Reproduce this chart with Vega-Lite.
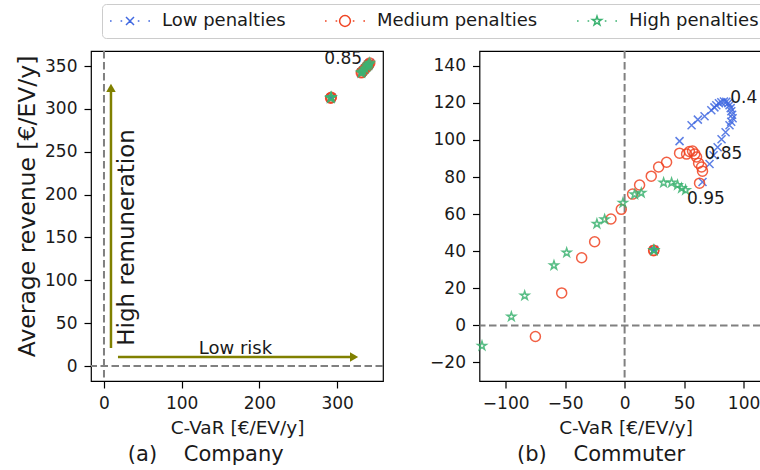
{
  "$schema": "https://vega.github.io/schema/vega-lite/v6.json",
  "padding": {"left": 14, "top": 3, "right": 0, "bottom": 0},
  "background": "white",
  "config": {
    "font": "DejaVu Sans",
    "view": {"stroke": "black", "strokeWidth": 1.2},
    "axis": {"grid": false, "domain": false, "tickColor": "black", "tickSize": 7, "tickWidth": 1.2, "labelFontSize": 17, "labelColor": "#1a1a1a", "labelPadding": 7, "titleFontSize": 18.5, "titleFontWeight": "normal", "titleColor": "#1a1a1a", "labelFont": "DejaVu Sans", "titleFont": "DejaVu Sans"},
    "axisX": {"titlePadding": 7},
    "title": {"fontSize": 21, "fontWeight": "normal", "color": "#1a1a1a", "orient": "bottom", "offset": 7, "frame": "bounds", "font": "DejaVu Sans"},
    "legend": {"orient": "none", "legendX": 11, "legendY": -47, "direction": "horizontal", "title": null, "labelFontSize": 18, "labelFont": "DejaVu Sans", "labelColor": "#1a1a1a", "labelLimit": 400, "symbolSize": 1600, "symbolStrokeWidth": 1.5, "symbolOpacity": 1, "labelOffset": 11, "columnPadding": 38, "padding": 7, "clipHeight": 20, "strokeColor": "#cccccc", "cornerRadius": 4, "fillColor": "white"},
    "concat": {"spacing": 43.5}
  },
  "datasets": {
    "pts": [
      {"p":"a","s":"Low penalties","x":292,"y":313},{"p":"a","s":"Low penalties","x":292.5,"y":313.6},{"p":"a","s":"Low penalties","x":291.6,"y":312.5},{"p":"a","s":"Low penalties","x":331,"y":342},{"p":"a","s":"Low penalties","x":331.8,"y":342.8},{"p":"a","s":"Low penalties","x":333.5,"y":344.5},{"p":"a","s":"Low penalties","x":336,"y":347},{"p":"a","s":"Low penalties","x":338.5,"y":349.5},{"p":"a","s":"Low penalties","x":340,"y":351},{"p":"a","s":"Low penalties","x":340.8,"y":352},{"p":"a","s":"Low penalties","x":342,"y":353.5},
      {"p":"a","s":"Medium penalties","x":292,"y":313},{"p":"a","s":"Medium penalties","x":292.5,"y":313.6},{"p":"a","s":"Medium penalties","x":291.6,"y":312.5},{"p":"a","s":"Medium penalties","x":331,"y":342},{"p":"a","s":"Medium penalties","x":331.8,"y":342.8},{"p":"a","s":"Medium penalties","x":333.5,"y":344.5},{"p":"a","s":"Medium penalties","x":336,"y":347},{"p":"a","s":"Medium penalties","x":338.5,"y":349.5},{"p":"a","s":"Medium penalties","x":340,"y":351},{"p":"a","s":"Medium penalties","x":340.8,"y":352},{"p":"a","s":"Medium penalties","x":342,"y":353.5},
      {"p":"a","s":"High penalties","x":292,"y":313},{"p":"a","s":"High penalties","x":292.5,"y":313.6},{"p":"a","s":"High penalties","x":291.6,"y":312.5},{"p":"a","s":"High penalties","x":331,"y":342},{"p":"a","s":"High penalties","x":331.8,"y":342.8},{"p":"a","s":"High penalties","x":333.5,"y":344.5},{"p":"a","s":"High penalties","x":336,"y":347},{"p":"a","s":"High penalties","x":338.5,"y":349.5},{"p":"a","s":"High penalties","x":340,"y":351},{"p":"a","s":"High penalties","x":340.8,"y":352},{"p":"a","s":"High penalties","x":342,"y":353.5},
      {"p":"b","s":"Low penalties","x":24.6,"y":40.5},{"p":"b","s":"Low penalties","x":24.8,"y":40.8},{"p":"b","s":"Low penalties","x":46.2,"y":99.4},{"p":"b","s":"Low penalties","x":56.3,"y":108.0},{"p":"b","s":"Low penalties","x":61.6,"y":111.0},{"p":"b","s":"Low penalties","x":67.2,"y":112.8},{"p":"b","s":"Low penalties","x":72.9,"y":116.0},{"p":"b","s":"Low penalties","x":75.5,"y":117.6},{"p":"b","s":"Low penalties","x":77.1,"y":118.7},{"p":"b","s":"Low penalties","x":79.3,"y":119.8},{"p":"b","s":"Low penalties","x":81.3,"y":120.4},{"p":"b","s":"Low penalties","x":83.5,"y":120.8},{"p":"b","s":"Low penalties","x":85.5,"y":120.6},{"p":"b","s":"Low penalties","x":87.2,"y":119.9},{"p":"b","s":"Low penalties","x":88.2,"y":118.7},{"p":"b","s":"Low penalties","x":89.2,"y":117.2},{"p":"b","s":"Low penalties","x":89.7,"y":115.5},{"p":"b","s":"Low penalties","x":90.4,"y":113.6},{"p":"b","s":"Low penalties","x":90.8,"y":111.7},{"p":"b","s":"Low penalties","x":89.6,"y":109.8},{"p":"b","s":"Low penalties","x":88.2,"y":108.0},{"p":"b","s":"Low penalties","x":84.9,"y":104.2},{"p":"b","s":"Low penalties","x":81.5,"y":100.4},{"p":"b","s":"Low penalties","x":78.2,"y":96.1},{"p":"b","s":"Low penalties","x":74.8,"y":91.8},{"p":"b","s":"Low penalties","x":71.4,"y":87.0},{"p":"b","s":"Low penalties","x":65.5,"y":77.3},
      {"p":"b","s":"Medium penalties","x":24.6,"y":40.5},{"p":"b","s":"Medium penalties","x":24.4,"y":40.3},{"p":"b","s":"Medium penalties","x":-75.0,"y":-6.0},{"p":"b","s":"Medium penalties","x":-52.9,"y":17.5},{"p":"b","s":"Medium penalties","x":-36.1,"y":36.5},{"p":"b","s":"Medium penalties","x":-25.2,"y":45.1},{"p":"b","s":"Medium penalties","x":-11.5,"y":57.4},{"p":"b","s":"Medium penalties","x":-2.8,"y":62.6},{"p":"b","s":"Medium penalties","x":6.7,"y":70.8},{"p":"b","s":"Medium penalties","x":12.6,"y":75.7},{"p":"b","s":"Medium penalties","x":22.4,"y":80.5},{"p":"b","s":"Medium penalties","x":28.6,"y":85.4},{"p":"b","s":"Medium penalties","x":35.3,"y":88.0},{"p":"b","s":"Medium penalties","x":46.2,"y":92.9},{"p":"b","s":"Medium penalties","x":52.1,"y":92.4},{"p":"b","s":"Medium penalties","x":54.5,"y":93.8},{"p":"b","s":"Medium penalties","x":57.1,"y":94.0},{"p":"b","s":"Medium penalties","x":59.0,"y":92.5},{"p":"b","s":"Medium penalties","x":60.5,"y":90.8},{"p":"b","s":"Medium penalties","x":62.2,"y":87.5},{"p":"b","s":"Medium penalties","x":64.7,"y":85.4},{"p":"b","s":"Medium penalties","x":65.5,"y":83.2},{"p":"b","s":"Medium penalties","x":63.0,"y":76.7},
      {"p":"b","s":"High penalties","x":24.6,"y":40.5},{"p":"b","s":"High penalties","x":24.7,"y":40.6},{"p":"b","s":"High penalties","x":-119.9,"y":-11.0},{"p":"b","s":"High penalties","x":-95.2,"y":4.7},{"p":"b","s":"High penalties","x":-84.0,"y":16.0},{"p":"b","s":"High penalties","x":-59.4,"y":32.4},{"p":"b","s":"High penalties","x":-48.7,"y":39.2},{"p":"b","s":"High penalties","x":-23.3,"y":54.8},{"p":"b","s":"High penalties","x":-16.8,"y":57.2},{"p":"b","s":"High penalties","x":-1.4,"y":66.1},{"p":"b","s":"High penalties","x":8.4,"y":70.7},{"p":"b","s":"High penalties","x":14.0,"y":71.5},{"p":"b","s":"High penalties","x":32.8,"y":77.0},{"p":"b","s":"High penalties","x":39.5,"y":77.0},{"p":"b","s":"High penalties","x":44.5,"y":75.7},{"p":"b","s":"High penalties","x":47.9,"y":74.0},{"p":"b","s":"High penalties","x":51.3,"y":73.0}
    ],
    "labs": [
      {"p":"a","x":283.5,"y":352,"t":"0.85"},
      {"p":"b","x":88.8,"y":119.8,"t":"0.4"},
      {"p":"b","x":67.2,"y":89.5,"t":"0.85"},
      {"p":"b","x":52.4,"y":65.6,"t":"0.95"}
    ],
    "vline": [{"x":9,"y":21,"y2":320}],
    "hline": [{"x":18,"x2":318,"y":10.5}],
    "uphead": [{"x":9,"y":324.5}],
    "righthead": [{"x":321.8,"y":10.5}],
    "notes": [
      {"x":29.6,"y":150,"t":"High remuneration","a":270,"fs":23},
      {"x":169.2,"y":19.8,"t":"Low risk","a":0,"fs":18}
    ]
  },
  "hconcat": [
    {
      "width": 292, "height": 330,
      "title": {"text": "(a)\u00a0\u00a0\u00a0\u00a0Company", "dx": 6},
      "layer": [
        {"data": {"values": [{}]}, "mark": {"type": "rule", "color": "#808080", "strokeDash": [7.5, 3.5], "strokeWidth": 2},
         "encoding": {"x": {"datum": 0, "type": "quantitative", "scale": {"domain": [-16.7, 359], "nice": false, "zero": false}, "axis": {"values": [0,100,200,300], "title": "C-VaR [€/EV/y]"}}}},
        {"data": {"values": [{}]}, "mark": {"type": "rule", "color": "#808080", "strokeDash": [7.5, 3.5], "strokeWidth": 2},
         "encoding": {"y": {"datum": 0, "type": "quantitative", "scale": {"domain": [-17.5, 367.5], "nice": false, "zero": false}, "axis": {"values": [0,50,100,150,200,250,300,350], "title": "Average revenue [€/EV/y]", "titleFontSize": 23.5, "titlePadding": 5, "titleY": 155}}}},
        {"data": {"name": "vline"}, "mark": {"type": "rule", "color": "#808000", "strokeWidth": 2.5},
         "encoding": {"x": {"field": "x", "type": "quantitative"}, "y": {"field": "y", "type": "quantitative"}, "y2": {"field": "y2"}}},
        {"data": {"name": "hline"}, "mark": {"type": "rule", "color": "#808000", "strokeWidth": 2.5},
         "encoding": {"x": {"field": "x", "type": "quantitative"}, "x2": {"field": "x2"}, "y": {"field": "y", "type": "quantitative"}}},
        {"data": {"name": "uphead"}, "mark": {"type": "point", "shape": "triangle-up", "filled": true, "color": "#808000", "opacity": 1, "size": 90},
         "encoding": {"x": {"field": "x", "type": "quantitative"}, "y": {"field": "y", "type": "quantitative"}}},
        {"data": {"name": "righthead"}, "mark": {"type": "point", "shape": "triangle-right", "filled": true, "color": "#808000", "opacity": 1, "size": 90},
         "encoding": {"x": {"field": "x", "type": "quantitative"}, "y": {"field": "y", "type": "quantitative"}}},
        {"data": {"name": "notes"}, "mark": {"type": "text", "align": "center", "baseline": "middle", "color": "#1a1a1a", "font": "DejaVu Sans"},
         "encoding": {"x": {"field": "x", "type": "quantitative"}, "y": {"field": "y", "type": "quantitative"}, "text": {"field": "t"}, "angle": {"field": "a", "type": "quantitative", "scale": null}, "size": {"field": "fs", "type": "quantitative", "scale": null}}},
        {"data": {"name": "pts"}, "transform": [{"filter": "datum.p === 'a'"}],
         "encoding": {
           "x": {"field": "x", "type": "quantitative"},
           "y": {"field": "y", "type": "quantitative"},
           "color": {"field": "s", "type": "nominal", "sort": null,
             "scale": {"domain": ["Low penalties", "Medium penalties", "High penalties"], "range": ["#4169e1", "#f04423", "#3cb371"]},
             "legend": {"symbolType": {"expr": "datum.value === 'Low penalties' ? 'M-1,0L-0.92,0M-0.47,0L-0.39,0M0.39,0L0.47,0M0.92,0L1,0M-0.2,-0.2L0.2,0.2M0.2,-0.2L-0.2,0.2' : datum.value === 'Medium penalties' ? 'M-1,0L-0.92,0M-0.47,0L-0.39,0M0.39,0L0.47,0M0.92,0L1,0M0.27,0A0.27,0.27 0 1 1 -0.27,0A0.27,0.27 0 1 1 0.27,0' : 'M-1,0L-0.92,0M-0.47,0L-0.39,0M0.39,0L0.47,0M0.92,0L1,0M0,-0.24L0.0539,-0.0742L0.2282,-0.0742L0.0871,0.0283L0.1411,0.1942L0,0.0917L-0.1411,0.1942L-0.0871,0.0283L-0.2282,-0.0742L-0.0539,-0.0742Z'"}}
           }
         },
         "layer": [
           {"transform": [{"filter": "datum.s === 'Low penalties'"}], "mark": {"type": "point", "shape": "M-0.8,-0.8L0.8,0.8M0.8,-0.8L-0.8,0.8", "filled": false, "strokeWidth": 1.5, "size": 100, "opacity": 0.85}},
           {"transform": [{"filter": "datum.s === 'Medium penalties'"}], "mark": {"type": "point", "shape": "circle", "filled": false, "strokeWidth": 1.5, "size": 100, "opacity": 0.85}},
           {"transform": [{"filter": "datum.s === 'High penalties'"}], "mark": {"type": "point", "shape": "M0,-0.9L0.202,-0.278L0.856,-0.278L0.327,0.106L0.529,0.728L0,0.344L-0.529,0.728L-0.327,0.106L-0.856,-0.278L-0.202,-0.278Z", "filled": false, "strokeWidth": 1.5, "size": 100, "opacity": 0.85}}
         ]},
        {"data": {"name": "labs"}, "transform": [{"filter": "datum.p === 'a'"}],
         "mark": {"type": "text", "align": "left", "baseline": "alphabetic", "fontSize": 17, "color": "#1a1a1a", "font": "DejaVu Sans"},
         "encoding": {"x": {"field": "x", "type": "quantitative"}, "y": {"field": "y", "type": "quantitative"}, "text": {"field": "t"}}}
      ]
    },
    {
      "width": 292, "height": 330,
      "title": {"text": "(b)\u00a0\u00a0\u00a0\u00a0Commuter", "dx": 0},
      "layer": [
        {"data": {"values": [{}]}, "mark": {"type": "rule", "color": "#808080", "strokeDash": [7.5, 3.5], "strokeWidth": 2},
         "encoding": {"x": {"datum": 0, "type": "quantitative", "scale": {"domain": [-122, 123.5], "nice": false, "zero": false}, "axis": {"values": [-100,-50,0,50,100], "title": "C-VaR [€/EV/y]"}}}},
        {"data": {"values": [{}]}, "mark": {"type": "rule", "color": "#808080", "strokeDash": [7.5, 3.5], "strokeWidth": 2},
         "encoding": {"y": {"datum": 0, "type": "quantitative", "scale": {"domain": [-30, 148], "nice": false, "zero": false}, "axis": {"values": [-20,0,20,40,60,80,100,120,140], "title": null}}}},
        {"data": {"name": "pts"}, "transform": [{"filter": "datum.p === 'b'"}],
         "encoding": {
           "x": {"field": "x", "type": "quantitative"},
           "y": {"field": "y", "type": "quantitative"},
           "color": {"field": "s", "type": "nominal", "sort": null,
             "scale": {"domain": ["Low penalties", "Medium penalties", "High penalties"], "range": ["#4169e1", "#f04423", "#3cb371"]},
             "legend": {"symbolType": {"expr": "datum.value === 'Low penalties' ? 'M-1,0L-0.92,0M-0.47,0L-0.39,0M0.39,0L0.47,0M0.92,0L1,0M-0.2,-0.2L0.2,0.2M0.2,-0.2L-0.2,0.2' : datum.value === 'Medium penalties' ? 'M-1,0L-0.92,0M-0.47,0L-0.39,0M0.39,0L0.47,0M0.92,0L1,0M0.27,0A0.27,0.27 0 1 1 -0.27,0A0.27,0.27 0 1 1 0.27,0' : 'M-1,0L-0.92,0M-0.47,0L-0.39,0M0.39,0L0.47,0M0.92,0L1,0M0,-0.24L0.0539,-0.0742L0.2282,-0.0742L0.0871,0.0283L0.1411,0.1942L0,0.0917L-0.1411,0.1942L-0.0871,0.0283L-0.2282,-0.0742L-0.0539,-0.0742Z'"}}
           }
         },
         "layer": [
           {"transform": [{"filter": "datum.s === 'Low penalties'"}], "mark": {"type": "point", "shape": "M-0.8,-0.8L0.8,0.8M0.8,-0.8L-0.8,0.8", "filled": false, "strokeWidth": 1.5, "size": 100, "opacity": 0.85}},
           {"transform": [{"filter": "datum.s === 'Medium penalties'"}], "mark": {"type": "point", "shape": "circle", "filled": false, "strokeWidth": 1.5, "size": 100, "opacity": 0.85}},
           {"transform": [{"filter": "datum.s === 'High penalties'"}], "mark": {"type": "point", "shape": "M0,-0.9L0.202,-0.278L0.856,-0.278L0.327,0.106L0.529,0.728L0,0.344L-0.529,0.728L-0.327,0.106L-0.856,-0.278L-0.202,-0.278Z", "filled": false, "strokeWidth": 1.5, "size": 100, "opacity": 0.85}}
         ]},
        {"data": {"name": "labs"}, "transform": [{"filter": "datum.p === 'b'"}],
         "mark": {"type": "text", "align": "left", "baseline": "alphabetic", "fontSize": 17, "color": "#1a1a1a", "font": "DejaVu Sans"},
         "encoding": {"x": {"field": "x", "type": "quantitative"}, "y": {"field": "y", "type": "quantitative"}, "text": {"field": "t"}}}
      ]
    }
  ],
  "resolve": {"scale": {"color": "shared"}}
}
